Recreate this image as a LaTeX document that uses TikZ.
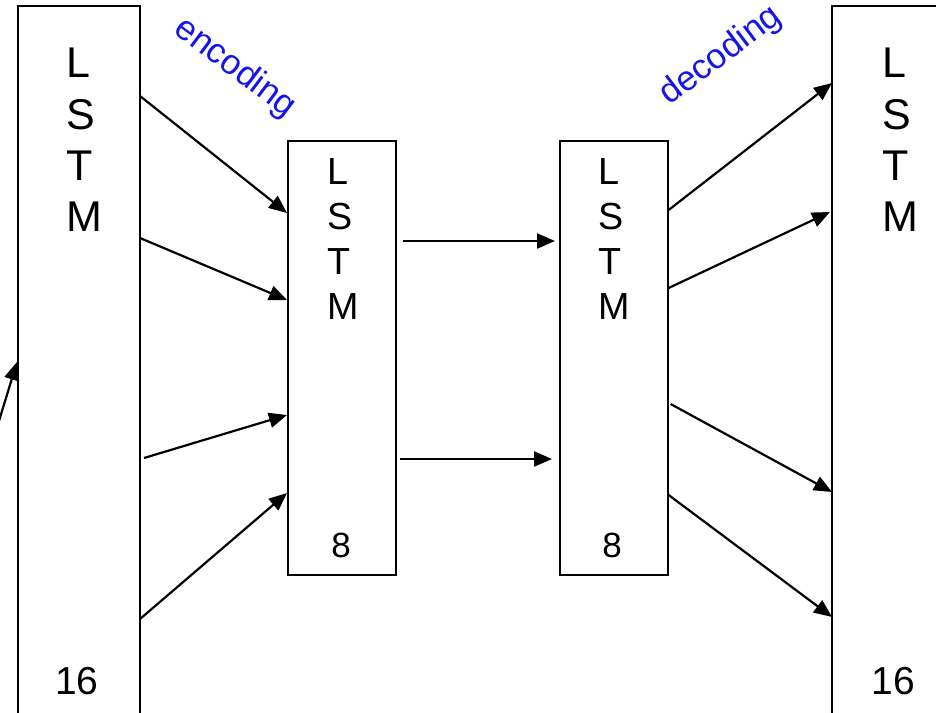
\documentclass[tikz,border=0pt]{standalone}
\usepackage{fontspec}
\setmainfont{Liberation Sans}
\usetikzlibrary{arrows.meta}
\definecolor{lblblue}{RGB}{20,20,235}
\begin{document}
\begin{tikzpicture}[x=1pt,y=-1pt,
  box/.style={draw=black,line width=1.6pt,fill=white},
  conn/.style={line width=2.2pt,-{Triangle[length=18pt,width=15pt]}},
  bigtxt/.style={font=\fontsize{43}{51.3}\selectfont,align=left,inner sep=0pt,anchor=north west},
  midtxt/.style={font=\fontsize{37.7}{45}\selectfont,align=left,inner sep=0pt,anchor=north west},
  bignum/.style={font=\fontsize{39}{45}\selectfont,inner sep=0pt},
  midnum/.style={font=\fontsize{35}{40}\selectfont,inner sep=0pt},
  lbl/.style={text=lblblue,font=\fontsize{35}{38}\selectfont,inner sep=0pt}]
\useasboundingbox (0,0) rectangle (936,712);
\clip (0,0) rectangle (936,712);
\fill[white] (0,0) rectangle (936,712);
% boxes
\draw[box] (18,6) rectangle (140,730);
\draw[box] (832,6) rectangle (960,730);
\node[box,minimum width=108pt,minimum height=434pt,inner sep=0pt,anchor=north west] (E) at (287,140) {};
\node[box,minimum width=108pt,minimum height=434pt,inner sep=0pt,anchor=north west] (D) at (559,140) {};
\coordinate (Lb) at (140,0);
\coordinate (Rb) at (832,0);
% texts
\node[bigtxt] (lt) at (66,48) {L\\S\\T\\M};
\node[bigtxt] (rt) at (882,48) {L\\S\\T\\M};
\node[midtxt] (et) at (327,158) {L\\S\\T\\M};
\node[midtxt] (dt) at (598,158) {L\\S\\T\\M};
\node[bignum] (ln) at (77,681) {16};
\node[bignum] (rn) at (893,681) {16};
\node[midnum] (en) at (341,545.5) {8};
\node[midnum] (dn) at (612,545.5) {8};
\node[lbl,rotate=-37] (enc) at (235,68) {encoding};
\node[lbl,rotate=37] (dec) at (721,56) {decoding};
% input arrow
\coordinate (in0) at (-5,434);
\draw[conn] (in0) -- (17,362);
% encoding arrows
\draw[conn] (Lb |- 0,96) -- (E.west |- 0,213);
\draw[conn] (Lb |- 0,238) -- (E.west |- 0,300);
\draw[conn] ([xshift=4pt]Lb |- 0,458) -- (E.west |- 0,415);
\draw[conn] (Lb |- 0,619) -- (E.west |- 0,493);
% middle arrows
\draw[conn] ([xshift=6pt]E.east |- 0,241) -- ([xshift=-4pt]D.west |- 0,241);
\draw[conn] ([xshift=3pt]E.east |- 0,459) -- ([xshift=-7pt]D.west |- 0,459);
% decoding arrows
\draw[conn] (D.east |- 0,210) -- (Rb |- 0,83);
\draw[conn] (D.east |- 0,288) -- ([xshift=-2pt]Rb |- 0,212);
\draw[conn] ([xshift=2pt]D.east |- 0,404) -- (Rb |- 0,492);
\draw[conn] (D.east |- 0,495) -- (Rb |- 0,617);
\end{tikzpicture}
\end{document}
